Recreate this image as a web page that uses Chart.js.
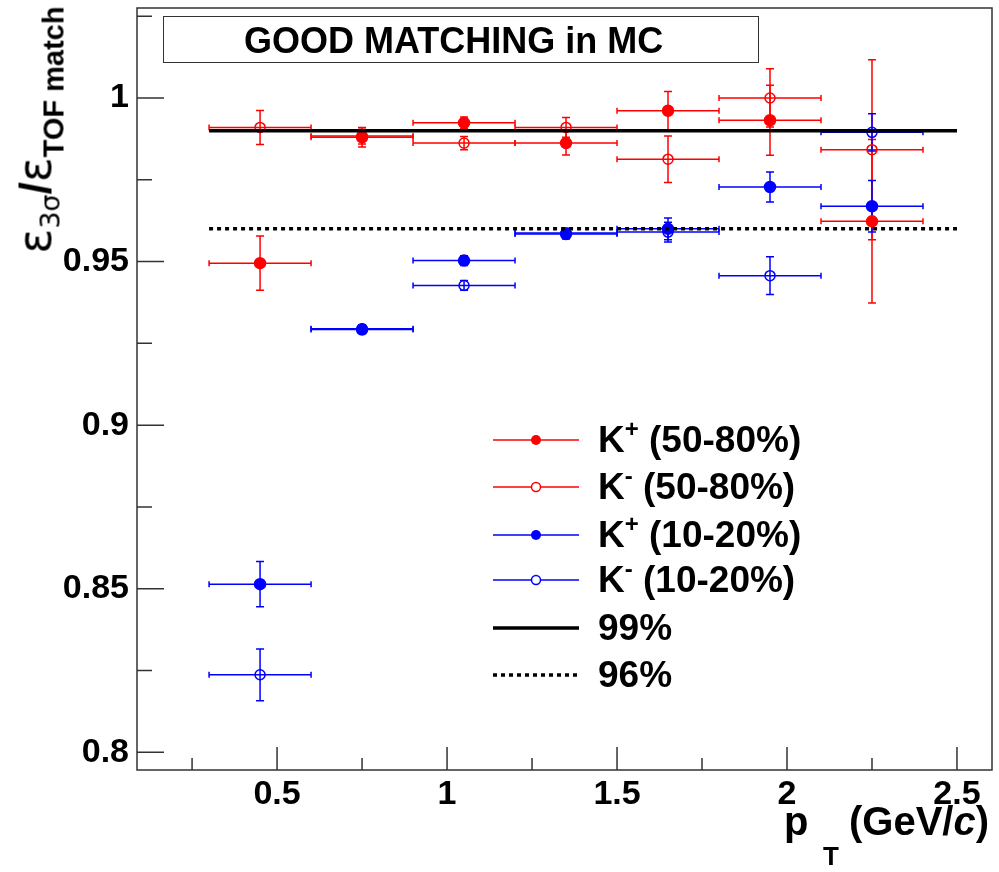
<!DOCTYPE html>
<html><head><meta charset="utf-8">
<script src="https://cdn.jsdelivr.net/npm/chart.js@4.4.1/dist/chart.umd.min.js"></script>
<style>
html,body{margin:0;padding:0;background:#fff;}
#wrap{position:relative;width:999px;height:872px;overflow:hidden;font-family:"Liberation Sans",Arial,sans-serif;}
canvas{position:absolute;left:0;top:0;}
.t{position:absolute;white-space:nowrap;color:#000;font-weight:bold;}
#titlebox{left:163px;top:16px;width:594px;height:45px;border:1.5px solid #333;background:#fff;font-size:36px;line-height:47px;box-sizing:content-box;}
#titlebox span{position:absolute;left:80px;top:0;}
.leg{left:598px;height:40px;line-height:40px;font-size:37px;}
.leg sup{font-size:24px;vertical-align:15px;line-height:0;}
#ytitle{left:40px;top:130px;transform:translate(-50%,-50%) rotate(-90deg);font-weight:normal;line-height:50px;}
#ytitle .eps{font-size:46px;font-family:"DejaVu Sans",sans-serif;}
#ytitle .s1{font-size:27px;vertical-align:-9px;line-height:0;font-family:"DejaVu Sans",sans-serif;}
#ytitle .sl{font-size:44px;font-weight:bold;}
#ytitle .s2{font-size:29px;font-weight:bold;vertical-align:-13px;line-height:0;}
</style></head><body>
<div id="wrap">
<canvas id="c" width="999" height="872"></canvas>
<div class="t" id="titlebox"><span>GOOD MATCHING in MC</span></div>
<div class="t leg" style="top:420px">K<sup>+</sup> (50-80%)</div>
<div class="t leg" style="top:467px">K<sup>-</sup> (50-80%)</div>
<div class="t leg" style="top:515px">K<sup>+</sup> (10-20%)</div>
<div class="t leg" style="top:560px">K<sup>-</sup> (10-20%)</div>
<div class="t leg" style="top:608px">99%</div>
<div class="t leg" style="top:655px">96%</div>
<div class="t" id="ytitle"><span class="eps">ε</span><span class="s1">3σ</span><span class="sl">/</span><span class="eps">ε</span><span class="s2">TOF match</span></div>
<div class="t" style="left:784px;top:801px;font-size:40px;line-height:40px;">p</div>
<div class="t" style="left:823px;top:843px;font-size:26px;line-height:26px;">T</div>
<div class="t" style="left:849px;top:801px;font-size:40px;line-height:40px;">(GeV/<i>c</i>)</div>
</div>
<script>
// ---- data ----
const ptBins = [0.45, 0.75, 1.05, 1.35, 1.65, 1.95, 2.25];
const ptHalfWidth = [0.15, 0.15, 0.15, 0.15, 0.15, 0.15, 0.15];

const kPlus5080 = [0.9495, 0.9880, 0.9924, 0.9862, 0.9961, 0.9932, 0.9623];
const kPlus5080Err = [0.0083, 0.0030, 0.0018, 0.0036, 0.0059, 0.0107, 0.0250];
const kMinus5080 = [0.9910, 0.9884, 0.9862, 0.9910, 0.9813, 1.0000, 0.9842];
const kMinus5080Err = [0.0052, 0.0025, 0.0020, 0.0030, 0.0071, 0.0089, 0.0275];
const kPlus1020 = [0.8514, 0.9292, 0.9503, 0.9584, 0.9600, 0.9728, 0.9669];
const kPlus1020Err = [0.0069, 0.0012, 0.0015, 0.0015, 0.0033, 0.0046, 0.0079];
const kMinus1020 = [0.8237, 0.9295, 0.9427, 0.9587, 0.9590, 0.9457, 0.9895];
const kMinus1020Err = [0.0079, 0.0012, 0.0015, 0.0015, 0.0030, 0.0058, 0.0057];

const refLineX = [0.3, 2.5];
const ref99 = [0.99, 0.99];
const ref96 = [0.96, 0.96];

const xTicks = [0.5, 1, 1.5, 2, 2.5];
const xMinorTicks = [0.25, 0.75, 1.25, 1.75, 2.25];
const yTicks = [0.8, 0.85, 0.9, 0.95, 1];
const yMinorTicks = [0.825, 0.875, 0.925, 0.975, 1.025];

const RED = '#ff0000', BLUE = '#0000ff';

function pts(xs, ys) { return xs.map((x, i) => ({x: x, y: ys[i]})); }

function series(label, ys, errs, color, filled) {
  return {
    type: 'scatter', label: label, data: pts(ptBins, ys),
    errX: ptHalfWidth, errY: errs,
    borderColor: color, backgroundColor: filled ? color : 'rgba(0,0,0,0)',
    pointStyle: 'circle', pointRadius: filled ? 5.5 : 5, borderWidth: 1.5,
    showLine: false, legendFilled: filled
  };
}

const datasets = [
  {type: 'line', label: '99%', data: pts(refLineX, ref99), borderColor: '#000', borderWidth: 3.5, pointRadius: 0, fill: false},
  {type: 'line', label: '96%', data: pts(refLineX, ref96), borderColor: '#000', borderWidth: 3.5, borderDash: [4, 4], pointRadius: 0, fill: false},
  series('K+ (50-80%)', kPlus5080, kPlus5080Err, RED, true),
  series('K- (50-80%)', kMinus5080, kMinus5080Err, RED, false),
  series('K+ (10-20%)', kPlus1020, kPlus1020Err, BLUE, true),
  series('K- (10-20%)', kMinus1020, kMinus1020Err, BLUE, false)
];

const errorBarPlugin = {
  id: 'errbars',
  beforeDatasetsDraw(chart) {
    const ctx = chart.ctx, xs = chart.scales.x, ys = chart.scales.y;
    ctx.save();
    chart.data.datasets.forEach(ds => {
      if (!ds.errY) return;
      ctx.strokeStyle = ds.borderColor; ctx.lineWidth = 1.5;
      ds.data.forEach((p, i) => {
        const cx = xs.getPixelForValue(p.x), cy = ys.getPixelForValue(p.y);
        const x0 = xs.getPixelForValue(p.x - ds.errX[i]), x1 = xs.getPixelForValue(p.x + ds.errX[i]);
        const y0 = ys.getPixelForValue(p.y - ds.errY[i]), y1 = ys.getPixelForValue(p.y + ds.errY[i]);
        ctx.beginPath();
        ctx.moveTo(x0, cy); ctx.lineTo(x1, cy);
        ctx.moveTo(x0, cy - 3); ctx.lineTo(x0, cy + 3);
        ctx.moveTo(x1, cy - 3); ctx.lineTo(x1, cy + 3);
        ctx.moveTo(cx, y0); ctx.lineTo(cx, y1);
        ctx.moveTo(cx - 4, y0); ctx.lineTo(cx + 4, y0);
        ctx.moveTo(cx - 4, y1); ctx.lineTo(cx + 4, y1);
        ctx.stroke();
      });
    });
    ctx.restore();
  }
};

const framePlugin = {
  id: 'frame',
  afterDraw(chart) {
    const ctx = chart.ctx, a = chart.chartArea, xs = chart.scales.x, ys = chart.scales.y;
    ctx.save();
    ctx.strokeStyle = '#333'; ctx.lineWidth = 1.5;
    ctx.strokeRect(a.left, a.top, a.right - a.left, a.bottom - a.top);
    ctx.beginPath();
    yTicks.forEach(v => { const y = ys.getPixelForValue(v); ctx.moveTo(a.left, y); ctx.lineTo(a.left + 27, y); });
    yMinorTicks.forEach(v => { const y = ys.getPixelForValue(v); ctx.moveTo(a.left, y); ctx.lineTo(a.left + 15, y); });
    xTicks.forEach(v => { const x = xs.getPixelForValue(v); ctx.moveTo(x, a.bottom); ctx.lineTo(x, a.bottom - 23); });
    xMinorTicks.forEach(v => { const x = xs.getPixelForValue(v); ctx.moveTo(x, a.bottom); ctx.lineTo(x, a.bottom - 12); });
    ctx.stroke();
    // legend samples
    const rows = [440, 487, 535, 580, 628, 675];
    const order = [2, 3, 4, 5, 0, 1];
    order.forEach((di, r) => {
      const ds = chart.data.datasets[di], y = rows[r];
      ctx.strokeStyle = ds.borderColor;
      ctx.lineWidth = ds.errY ? 1.5 : 3.5;
      ctx.setLineDash(ds.borderDash || []);
      ctx.beginPath(); ctx.moveTo(493, y); ctx.lineTo(579, y); ctx.stroke();
      ctx.setLineDash([]);
      if (ds.errY) {
        ctx.beginPath(); ctx.arc(536, y, ds.legendFilled ? 5 : 4.5, 0, Math.PI * 2);
        if (ds.legendFilled) { ctx.fillStyle = ds.borderColor; ctx.fill(); }
        else { ctx.fillStyle = '#fff'; ctx.fill(); ctx.lineWidth = 1.5; ctx.stroke(); }
      }
    });
    ctx.restore();
  }
};

const tickFont = {family: '"Liberation Sans", Arial, sans-serif', size: 34, weight: 'bold'};

new Chart(document.getElementById('c'), {
  data: {datasets: datasets},
  options: {
    responsive: false, animation: false, devicePixelRatio: 1,
    layout: {padding: {top: 8, right: 7, left: 0, bottom: 0}},
    plugins: {legend: {display: false}, tooltip: {enabled: false}},
    scales: {
      x: {
        type: 'linear', min: 0.088, max: 2.603,
        grid: {display: false, drawTicks: false}, border: {display: false},
        ticks: {font: tickFont, color: '#000', padding: 4, maxRotation: 0, autoSkip: false, callback: v => String(v)},
        afterBuildTicks: s => { s.ticks = xTicks.map(v => ({value: v})); },
        afterFit: s => { s.height = 102; s.paddingLeft = 0; s.paddingRight = 0; }
      },
      y: {
        type: 'linear', min: 0.7946, max: 1.0275,
        grid: {display: false, drawTicks: false}, border: {display: false},
        ticks: {font: tickFont, color: '#000', padding: 8, autoSkip: false, callback: v => String(v)},
        afterBuildTicks: s => { s.ticks = yTicks.map(v => ({value: v})); },
        afterFit: s => { s.width = 137; s.paddingTop = 0; s.paddingBottom = 0; }
      }
    }
  },
  plugins: [errorBarPlugin, framePlugin]
});
</script>
</body></html>
